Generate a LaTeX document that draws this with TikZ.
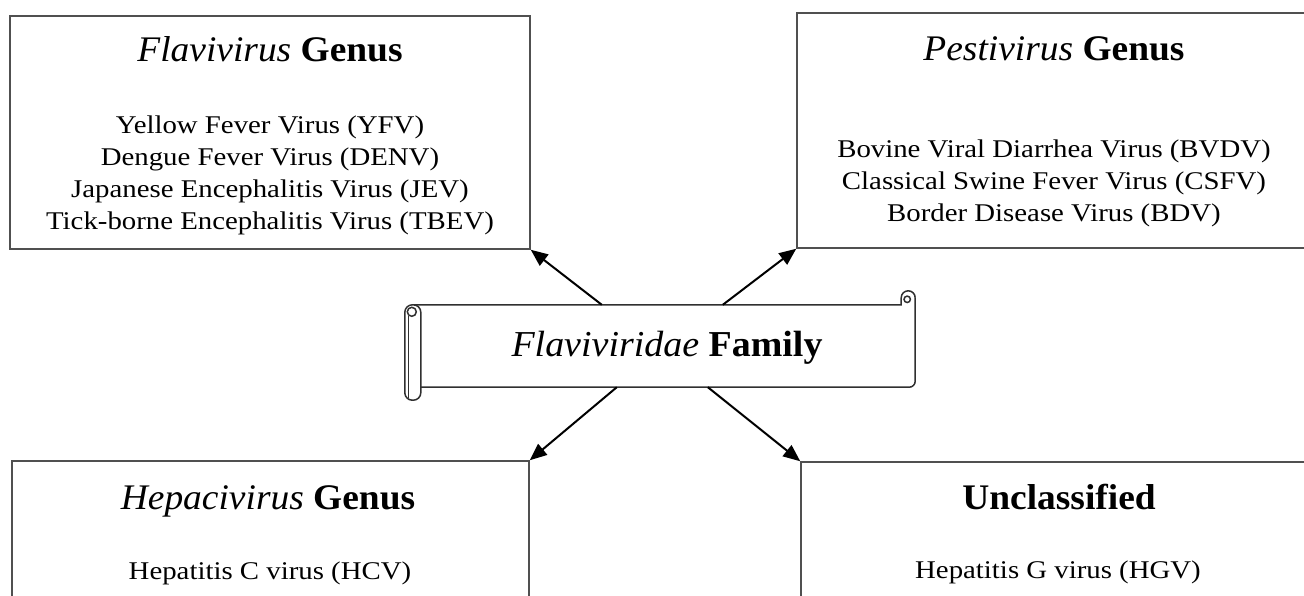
\documentclass[tikz,border=0pt]{standalone}
\usepackage{fontspec}
\setmainfont{Liberation Serif}
\newfontfamily\bodyfont{Liberation Serif}[FakeStretch=1.13]
\newfontfamily\headfont{Liberation Serif}[FakeStretch=1.04]
\usetikzlibrary{arrows.meta,calc}
\definecolor{boxline}{HTML}{505050}
\definecolor{scrline}{HTML}{303030}
\tikzset{
  box/.style={draw=boxline, line width=1.5pt, fill=none, inner sep=0pt},
  head/.style={inner sep=0pt, anchor=base, font=\headfont\fontsize{36}{43}\selectfont},
  bodyline/.style={inner sep=0pt, anchor=base, font=\bodyfont\fontsize{25.5}{30}\selectfont},
  scrollpart/.style={draw=scrline, line width=1.5pt},
  link/.style={draw=black, line width=2pt, -{Triangle[length=17pt,width=14pt]}}
}
\begin{document}
\begin{tikzpicture}[x=1pt,y=-1pt]
\useasboundingbox (0,0) rectangle (1304,595);
\fill[white] (0,0) rectangle (1304,595);
\clip (0,0) rectangle (1304,595);

% boxes
\node[box, minimum width=520pt, minimum height=233pt] (fl) at (270,132.5) {};
\node[box, minimum width=518pt, minimum height=235pt] (pe) at (1056,130.5) {};
\node[box, minimum width=517pt, minimum height=169pt] (he) at (270.5,545.5) {};
\node[box, minimum width=514pt, minimum height=168pt] (un) at (1058,546) {};

% Flavivirus box text
\node[head] (flT) at (270,61) {\textit{Flavivirus} \textbf{Genus}};
\node[bodyline] (fl1) at (270,133) {Yellow Fever Virus (YFV)};
\node[bodyline] (fl2) at (270,165) {Dengue Fever Virus (DENV)};
\node[bodyline] (fl3) at (270,197) {Japanese Encephalitis Virus (JEV)};
\node[bodyline] (fl4) at (270,229) {Tick-borne Encephalitis Virus (TBEV)};

% Pestivirus box text
\node[head] (peT) at (1054,60) {\textit{Pestivirus} \textbf{Genus}};
\node[bodyline] (pe1) at (1054,157) {Bovine Viral Diarrhea Virus (BVDV)};
\node[bodyline] (pe2) at (1054,189) {Classical Swine Fever Virus (CSFV)};
\node[bodyline] (pe3) at (1054,221) {Border Disease Virus (BDV)};

% Hepacivirus box text
\node[head] (heT) at (268,509) {\textit{Hepacivirus} \textbf{Genus}};
\node[bodyline] (he1) at (270,579) {Hepatitis C virus (HCV)};

% Unclassified box text
\node[head] (unT) at (1059,509) {\textbf{Unclassified}};
\node[bodyline] (un1) at (1058,578) {Hepatitis G virus (HGV)};

% scroll (family)
\node[inner sep=0pt, minimum width=495pt, minimum height=82pt] (fam) at (667.5,346) {};
\draw[scrollpart, rounded corners=6pt] (fam.south west) -- (fam.south east) -- ($(fam.north east)+(0,-7)$);
\draw[scrollpart] ($(fam.north east)+(0,-7)$)
  .. controls ($(fam.north east)+(0,-10.9)$) and ($(fam.north east)+(-3.1,-14)$) .. ($(fam.north east)+(-7,-14)$)
  .. controls ($(fam.north east)+(-10.9,-14)$) and ($(fam.north east)+(-14,-10.9)$) .. ($(fam.north east)+(-14,-7)$)
  -- ($(fam.north east)+(-14,0)$) -- ($(fam.north west)+(-7,0)$);
\draw[scrollpart] ($(fam.north east)+(-8,-5.5)$) circle[radius=3.2];
\draw[scrollpart, fill=white, rounded corners=7.5pt] ($(fam.north west)+(-15,0)$) rectangle ($(fam.south west)+(1,13)$);
\draw[scrollpart] ($(fam.north west)+(-11.5,11)$) -- ($(fam.south west)+(-11.5,11)$);
\draw[scrollpart, fill=white] ($(fam.north west)+(-8,7)$) circle[radius=4.5];
\node[head, font=\headfont\fontsize{36.5}{43}\selectfont] (famT) at (667,356) {\textit{Flaviviridae} \textbf{Family}};

% connectors
\coordinate (s1) at ($(fam.north west)+(182,0)$);
\coordinate (s2) at ($(fam.north west)+(303,0)$);
\coordinate (s3) at ($(fam.south west)+(197,0)$);
\coordinate (s4) at ($(fam.south west)+(288,0)$);
\draw[link] (s1) -- (fl.south east);
\draw[link] (s2) -- (pe.south west);
\draw[link] (s3) -- (he.north east);
\draw[link] (s4) -- (un.north west);
\end{tikzpicture}
\end{document}
